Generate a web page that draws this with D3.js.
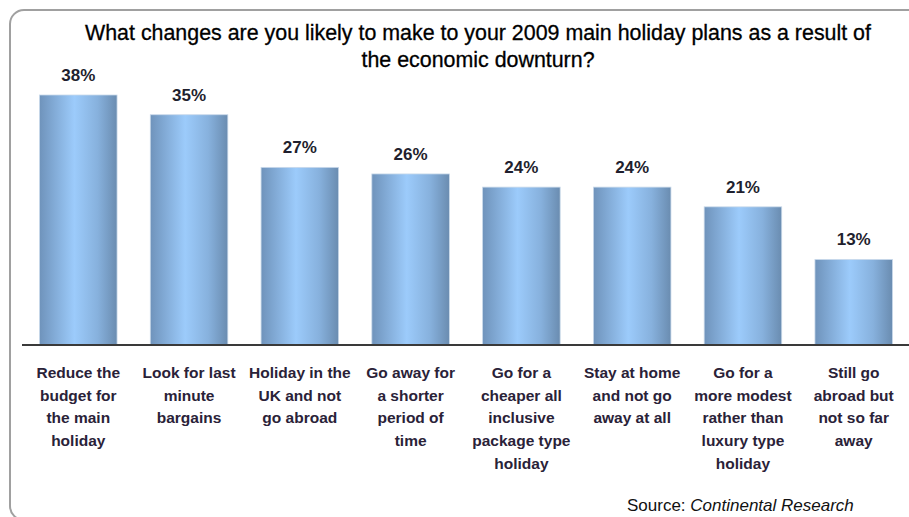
<!DOCTYPE html>
<html>
<head>
<meta charset="utf-8">
<script src="https://cdn.jsdelivr.net/npm/d3@7"></script>
<style>
  html, body { margin: 0; padding: 0; background: #ffffff; }
  svg { display: block; }
</style>
</head>
<body>
<svg id="chart" width="909" height="517"></svg>
<script>
const titleLines = [
  "What changes are you likely to make to your 2009 main holiday plans as a result of",
  "the economic downturn?"
];
const categories = [
  ["Reduce the", "budget for", "the main", "holiday"],
  ["Look for last", "minute", "bargains"],
  ["Holiday in the", "UK and not", "go abroad"],
  ["Go away for", "a shorter", "period of", "time"],
  ["Go for a", "cheaper all", "inclusive", "package type", "holiday"],
  ["Stay at home", "and not go", "away at all"],
  ["Go for a", "more modest", "rather than", "luxury type", "holiday"],
  ["Still go", "abroad but", "not so far", "away"]
];
const values = [38, 35, 27, 26, 24, 24, 21, 13];
const sourcePrefix = "Source: ";
const sourceName = "Continental Research";

const svg = d3.select("#chart");
const W = 909, H = 517;
const baseY = 345;

// frame
svg.append("rect")
  .attr("x", 10).attr("y", 10)
  .attr("width", 930).attr("height", 510)
  .attr("rx", 14).attr("ry", 14)
  .attr("fill", "none")
  .attr("stroke", "#a0a0a0")
  .attr("stroke-width", 2);

// gradient
const defs = svg.append("defs");
const grad = defs.append("linearGradient").attr("id", "barGrad")
  .attr("x1", "0%").attr("x2", "100%").attr("y1", "0%").attr("y2", "0%");
grad.append("stop").attr("offset", "0%").attr("stop-color", "#6f93bb");
grad.append("stop").attr("offset", "45%").attr("stop-color", "#9ccbfb");
grad.append("stop").attr("offset", "75%").attr("stop-color", "#87b1dd");
grad.append("stop").attr("offset", "100%").attr("stop-color", "#6a8cb0");

const idx = categories.map((c, i) => i);
const x = d3.scaleBand().domain(idx).range([22, 910]).paddingInner(0.3).paddingOuter(0.158);
const y = d3.scaleLinear().domain([0, 38]).range([baseY, 95]);

// title
const title = svg.append("text")
  .attr("text-anchor", "middle")
  .attr("font-family", "'Liberation Sans', Arial, sans-serif")
  .attr("font-size", 21.4)
  .attr("fill", "#000000")
  .attr("stroke", "#000000")
  .attr("stroke-width", 0.3);
titleLines.forEach((t, i) => {
  title.append("tspan").attr("x", 478).attr("y", 40 + i * 27).text(t);
});

// bars
svg.append("g").selectAll("rect").data(values).join("rect")
  .attr("x", (d, i) => x(i))
  .attr("y", d => y(d))
  .attr("width", x.bandwidth())
  .attr("height", d => baseY - y(d))
  .attr("fill", "url(#barGrad)")
  .attr("stroke", "#c9d9ea")
  .attr("stroke-width", 0.8);

// value labels
svg.append("g").selectAll("text").data(values).join("text")
  .attr("x", (d, i) => x(i) + x.bandwidth() / 2)
  .attr("y", d => y(d) - 14)
  .attr("text-anchor", "middle")
  .attr("font-family", "'Liberation Sans', Arial, sans-serif")
  .attr("font-weight", "bold")
  .attr("font-size", 17)
  .attr("fill", "#1f1f2e")
  .text(d => d + "%");

// axis line
svg.append("line")
  .attr("x1", 22).attr("x2", W)
  .attr("y1", baseY).attr("y2", baseY)
  .attr("stroke", "#3a3a3a").attr("stroke-width", 2);

// category labels
const catG = svg.append("g");
categories.forEach((lines, i) => {
  const t = catG.append("text")
    .attr("text-anchor", "middle")
    .attr("font-family", "'Liberation Sans', Arial, sans-serif")
    .attr("font-weight", "bold")
    .attr("font-size", 15.5)
    .attr("fill", "#2a2238");
  lines.forEach((ln, j) => {
    t.append("tspan")
      .attr("x", x(i) + x.bandwidth() / 2)
      .attr("y", 378 + j * 22.7)
      .text(ln);
  });
});

// source
const src = svg.append("text")
  .attr("x", 627).attr("y", 511)
  .attr("font-family", "'Liberation Sans', Arial, sans-serif")
  .attr("font-size", 17)
  .attr("fill", "#111111");
src.append("tspan").text(sourcePrefix);
src.append("tspan").attr("font-style", "italic").text(sourceName);
</script>
</body>
</html>
